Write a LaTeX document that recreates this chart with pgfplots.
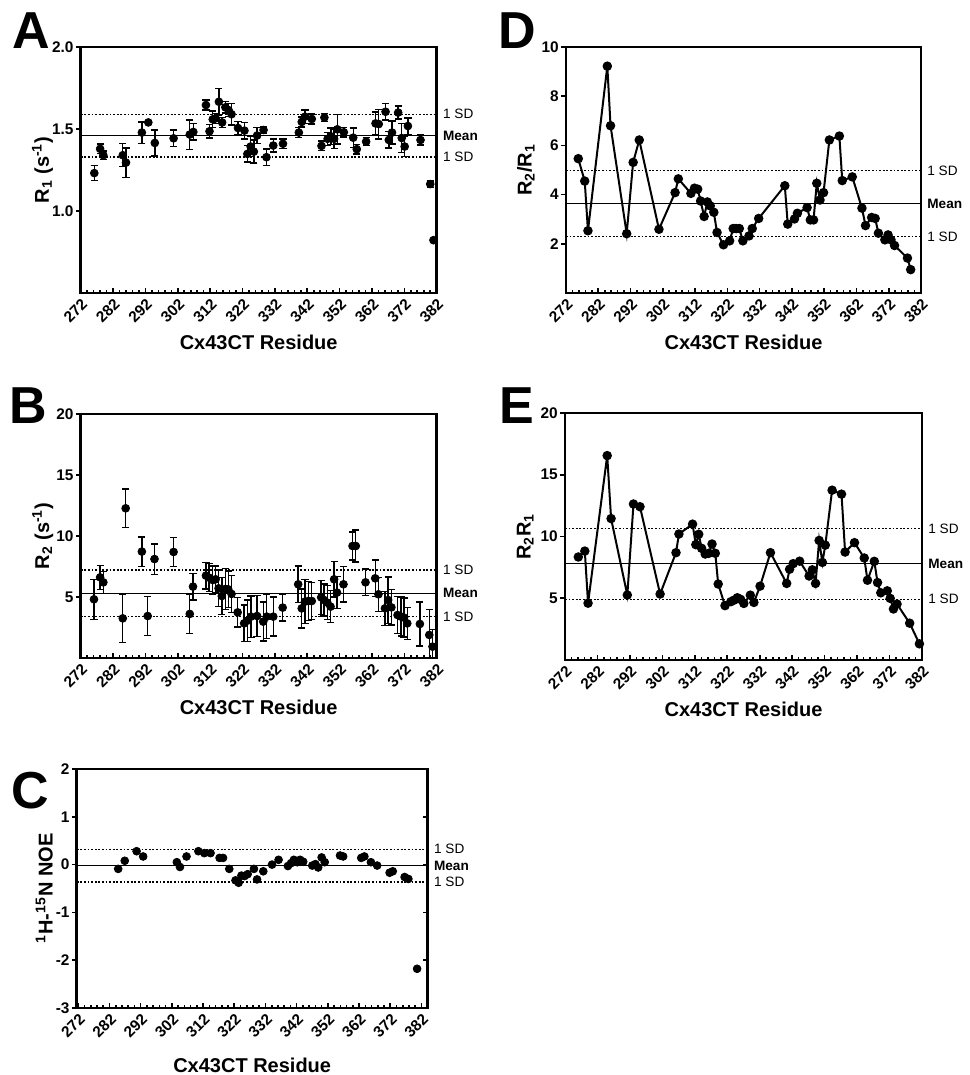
\documentclass[border=0pt]{standalone}
\usepackage{fontspec}
\setmainfont{Liberation Sans}
\usepackage{pgfplots}
\pgfplotsset{compat=1.18}

\tikzset{
  rlab/.style={anchor=west, xshift=3pt, font=\fontsize{6.8}{8}\selectfont, inner sep=0pt},
  rlabb/.style={rlab, font=\bfseries\fontsize{6.8}{8}\selectfont},
  letter/.style={font=\bfseries\fontsize{26}{26}\selectfont},
  rtick/.style={black, line width=0.8pt},
}
\pgfplotsset{
  panel/.style={
    scale only axis,
    clip mode=individual,
    anchor=south west,
    xmin=272, xmax=382,
    xtick={272,282,...,382},
    minor x tick num=4,
    xtick pos=left, ytick pos=left,
    xtick align=inside, ytick align=outside,
    major tick length=2.4pt, minor tick length=1.6pt,
    every tick/.append style={black, line width=0.8pt},
    axis line style={line width=1.3pt},
    /pgf/number format/assume math mode=true,
    tick label style={font=\bfseries\fontsize{7.7}{9}\selectfont},
    yticklabel style={inner sep=1pt},
    xticklabel style={rotate=45, anchor=north east, inner sep=1.5pt},
    label style={font=\bfseries\fontsize{10}{12}\selectfont},
    xlabel={Cx43CT Residue},
    ylabel shift=-5pt,
  },
  pts/.style={only marks, mark=*, mark size=1.95pt, black,
    error bars/.cd, y dir=both, y explicit,
    error bar style={line width=0.7pt, black},
    error mark options={rotate=90, mark size=1.8pt, line width=0.7pt, black}},
  mline/.style={black, line width=0.7pt},
  sdline/.style={black, line width=0.7pt, dash pattern=on 0.9pt off 0.9pt},
  conn/.style={black, line width=1pt, mark=*, mark size=1.85pt},
}

\begin{document}
\begin{tikzpicture}
\useasboundingbox (0,0) rectangle (484.5pt,537.5pt);

% ---------------- A: R1
\begin{axis}[panel, at={(40.35pt,391pt)}, width=178pt, height=123pt,
  ymin=0.5, ymax=2.0, ytick={1.0,1.5,2.0},
  yticklabel style={/pgf/number format/.cd, fixed, fixed zerofill, precision=1},
  ylabel={R\textsubscript{1} (s\textsuperscript{-1})}]
\addplot[mline] coordinates {(272,1.46) (382,1.46)};
\addplot[sdline] coordinates {(272,1.59) (382,1.59)};
\addplot[sdline] coordinates {(272,1.33) (382,1.33)};
\addplot[pts] coordinates {
(276.2,1.231) +- (0,0.045) (278.0,1.379) +- (0,0.03) (279.0,1.340) +- (0,0.025)
(285.0,1.340) +- (0,0.07) (286.0,1.295) +- (0,0.09) (290.9,1.478) +- (0,0.065)
(292.9,1.540) +- (0,0.01) (294.9,1.415) +- (0,0.08) (300.7,1.443) +- (0,0.05)
(305.7,1.466) +- (0,0.09) (306.8,1.482) +- (0,0.05) (310.7,1.646) +- (0,0.03)
(311.8,1.486) +- (0,0.04) (312.8,1.559) +- (0,0.05) (313.7,1.565) +- (0,0.03)
(314.7,1.666) +- (0,0.08) (315.7,1.540) +- (0,0.03) (316.7,1.632) +- (0,0.035)
(317.7,1.615) +- (0,0.04) (318.6,1.590) +- (0,0.065) (320.6,1.506) +- (0,0.04)
(322.6,1.490) +- (0,0.05) (323.5,1.348) +- (0,0.05) (324.5,1.393) +- (0,0.06)
(325.5,1.362) +- (0,0.07) (326.5,1.460) +- (0,0.05) (328.5,1.494) +- (0,0.02)
(329.4,1.328) +- (0,0.05) (331.5,1.399) +- (0,0.04) (334.5,1.410) +- (0,0.03)
(339.4,1.478) +- (0,0.03) (340.3,1.543) +- (0,0.03) (341.3,1.575) +- (0,0.04)
(343.4,1.561) +- (0,0.03) (346.4,1.397) +- (0,0.03) (347.3,1.570) +- (0,0.025)
(348.3,1.440) +- (0,0.04) (349.3,1.455) +- (0,0.05) (350.3,1.440) +- (0,0.06)
(351.3,1.498) +- (0,0.09) (353.3,1.480) +- (0,0.03) (356.2,1.447) +- (0,0.06)
(357.3,1.377) +- (0,0.03) (360.2,1.423) +- (0,0.025) (363.1,1.534) +- (0,0.07)
(364.1,1.530) +- (0,0.09) (366.2,1.605) +- (0,0.05) (367.2,1.433) +- (0,0.05)
(368.2,1.478) +- (0,0.07) (370.1,1.600) +- (0,0.04) (371.2,1.445) +- (0,0.09)
(372.1,1.393) +- (0,0.06) (373.1,1.518) +- (0,0.05) (377.0,1.433) +- (0,0.03)
(380.0,1.164) +- (0,0.02) (381.0,0.822) +- (0,0)
};
\node[rlab] at (axis cs:382,1.59) {1 SD};
\node[rlabb] at (axis cs:382,1.46) {Mean};
\node[rlab] at (axis cs:382,1.33) {1 SD};
\end{axis}

% ---------------- B: R2
\begin{axis}[panel, at={(40.35pt,208.5pt)}, width=178pt, height=122pt,
  ymin=0, ymax=20, ytick={5,10,15,20}, ylabel shift=-3pt,
  ylabel={R\textsubscript{2} (s\textsuperscript{-1})}]
\addplot[mline] coordinates {(272,5.3) (382,5.3)};
\addplot[sdline] coordinates {(272,7.2) (382,7.2)};
\addplot[sdline] coordinates {(272,3.4) (382,3.4)};
\addplot[pts] coordinates {
(276.1,4.81) +- (0,1.64) (278.0,6.61) +- (0,0.98) (279.0,6.20) +- (0,0.9)
(285.0,3.25) +- (0,2.0) (285.9,12.27) +- (0,1.57) (290.9,8.72) +- (0,1.2)
(292.7,3.44) +- (0,1.6) (294.8,8.11) +- (0,1.25) (300.7,8.69) +- (0,1.2)
(305.7,3.61) +- (0,1.6) (306.7,5.85) +- (0,1.1) (310.7,6.75) +- (0,1.1)
(311.7,6.58) +- (0,1.15) (312.8,6.39) +- (0,1.15) (313.7,6.45) +- (0,1.1)
(314.6,5.71) +- (0,1.5) (315.6,5.08) +- (0,1.5) (316.7,5.66) +- (0,1.7)
(317.6,5.63) +- (0,1.5) (318.6,5.25) +- (0,1.5) (320.5,3.74) +- (0,1.2)
(322.5,2.84) +- (0,1.5) (323.5,3.06) +- (0,1.7) (324.6,3.39) +- (0,1.7)
(326.5,3.44) +- (0,1.7) (328.4,2.98) +- (0,1.6) (329.5,3.39) +- (0,1.8)
(331.5,3.39) +- (0,1.6) (334.4,4.13) +- (0,1.1) (339.2,6.04) +- (0,1.5)
(340.3,4.07) +- (0,1.6) (341.3,4.62) +- (0,1.8) (342.3,4.67) +- (0,1.6)
(343.4,4.67) +- (0,1.5) (346.3,4.97) +- (0,1.4) (347.2,4.75) +- (0,1.3)
(348.2,4.54) +- (0,1.4) (349.2,4.21) +- (0,1.3) (350.3,6.45) +- (0,1.45)
(351.2,5.36) +- (0,1.3) (353.2,6.04) +- (0,1.45) (356.0,9.18) +- (0,1.15)
(357.0,9.18) +- (0,1.3) (360.0,6.20) +- (0,1.1) (363.0,6.53) +- (0,1.5)
(364.0,5.22) +- (0,1.4) (366.0,4.07) +- (0,1.4) (367.0,4.75) +- (0,1.9)
(368.0,4.15) +- (0,1.45) (369.9,3.52) +- (0,1.5) (371.0,3.39) +- (0,1.6)
(371.9,3.31) +- (0,1.6) (372.9,2.84) +- (0,1.3) (376.8,2.79) +- (0,1.8)
(379.7,1.89) +- (0,2.1) (380.7,0.93) +- (0,1.4)
};
\node[rlab] at (axis cs:382,7.2) {1 SD};
\node[rlabb] at (axis cs:382,5.3) {Mean};
\node[rlab] at (axis cs:382,3.4) {1 SD};
\end{axis}

% ---------------- C: NOE
\begin{axis}[panel, at={(38.35pt,33.5pt)}, width=175.5pt, height=119.5pt,
  xmin=271.5, xmax=384,
  ymin=-3, ymax=2, ytick={-3,-2,-1,0,1,2}, ylabel shift=-3pt,
  xlabel style={yshift=-4pt},
  ylabel={\textsuperscript{1}H-\textsuperscript{15}N NOE}]
\addplot[mline] coordinates {(271.5,-0.02) (384,-0.02)};
\addplot[sdline] coordinates {(271.5,0.32) (384,0.32)};
\addplot[sdline] coordinates {(271.5,-0.36) (384,-0.36)};
\addplot[only marks, mark=*, mark size=1.95pt, black] coordinates {
(284.8,-0.09) (286.9,0.08) (290.7,0.28) (292.8,0.17) (303.6,0.05) (304.6,-0.05)
(306.7,0.17) (310.5,0.28) (312.4,0.24) (314.4,0.24) (317.3,0.14) (318.4,0.14)
(320.4,-0.09) (322.4,-0.33) (323.4,-0.38) (324.3,-0.23) (325.3,-0.24) (326.3,-0.20)
(328.3,-0.09) (329.3,-0.31) (331.3,-0.14) (334.1,0.00) (336.2,0.10) (339.2,-0.03)
(340.2,0.03) (341.1,0.10) (342.2,0.05) (343.1,0.10) (344.1,0.06) (347.0,-0.02)
(348.0,0.01) (348.9,-0.06) (350.0,0.15) (351.0,0.05) (355.9,0.19) (356.9,0.17)
(362.7,0.14) (363.7,0.17) (365.8,0.05) (367.8,-0.02) (371.8,-0.17) (372.8,-0.14)
(376.6,-0.26) (377.8,-0.30) (380.6,-2.18)
};
\draw[rtick] (rel axis cs:1,0.2) -- ++(-2.4pt,0pt);
\draw[rtick] (rel axis cs:1,0.4) -- ++(-2.4pt,0pt);
\draw[rtick] (rel axis cs:1,0.6) -- ++(-2.4pt,0pt);
\draw[rtick] (rel axis cs:1,0.8) -- ++(-2.4pt,0pt);
\node[rlab] at (axis cs:384,0.32) {1 SD};
\node[rlabb] at (axis cs:384,-0.02) {Mean};
\node[rlab] at (axis cs:384,-0.36) {1 SD};
\end{axis}

% ---------------- D: R2/R1
\begin{axis}[panel, at={(283pt,391pt)}, width=177.5pt, height=123pt,
  ymin=0, ymax=10, ytick={2,4,6,8,10}, ylabel shift=-1pt,
  ylabel={R\textsubscript{2}/R\textsubscript{1}}]
\addplot[mline] coordinates {(272,3.63) (382,3.63)};
\addplot[sdline] coordinates {(272,4.97) (382,4.97)};
\addplot[sdline] coordinates {(272,2.29) (382,2.29)};
\addplot[conn] coordinates {
(275.8,5.46) (277.8,4.55) (278.8,2.53) (284.8,9.22) (285.8,6.80) (290.8,2.41)
(292.8,5.31) (294.7,6.22) (300.8,2.59) (305.8,4.08) (306.8,4.64) (310.7,4.05)
(311.8,4.26) (312.8,4.22) (313.7,3.74) (314.8,3.11) (315.8,3.70) (316.7,3.54)
(317.8,3.28) (318.8,2.46) (320.8,1.96) (322.7,2.12) (323.8,2.62) (324.7,2.62)
(325.7,2.62) (326.8,2.12) (328.7,2.32) (329.7,2.62) (331.7,3.03) (339.8,4.36)
(340.7,2.80) (342.8,3.01) (343.7,3.24) (346.7,3.47) (347.7,2.97) (348.7,2.97)
(349.7,4.46) (350.7,3.78) (351.8,4.08) (353.6,6.22) (356.7,6.38) (357.6,4.57)
(360.7,4.72) (363.7,3.45) (364.8,2.74) (366.7,3.07) (367.8,3.03) (368.8,2.43)
(370.8,2.16) (371.8,2.36) (372.7,2.16) (373.8,1.93) (377.8,1.42) (378.8,0.95)
};
\node[rlab] at (axis cs:382,4.97) {1 SD};
\node[rlabb] at (axis cs:382,3.63) {Mean};
\node[rlab] at (axis cs:382,2.29) {1 SD};
\end{axis}

% ---------------- E: R2*R1
\begin{axis}[panel, at={(282.5pt,207.5pt)}, width=178.5pt, height=123.5pt,
  ymin=0, ymax=20, ytick={5,10,15,20}, ylabel shift=-1pt,
  ylabel={R\textsubscript{2}R\textsubscript{1}}]
\addplot[mline] coordinates {(272,7.8) (382,7.8)};
\addplot[sdline] coordinates {(272,10.65) (382,10.65)};
\addplot[sdline] coordinates {(272,4.92) (382,4.92)};
\addplot[conn] coordinates {
(276.1,8.34) (278.1,8.82) (279.1,4.6) (285.0,16.55) (286.2,11.45) (291.2,5.26)
(293.1,12.63) (295.1,12.41) (301.3,5.34) (306.2,8.69) (307.1,10.2) (311.3,11.0)
(312.3,9.34) (313.2,10.18) (314.1,9.04) (315.2,8.58) (316.3,8.64) (317.3,9.39)
(318.3,8.64) (319.2,6.15) (321.3,4.40) (323.1,4.72) (324.1,4.85) (325.1,5.04)
(326.1,4.91) (327.1,4.58) (329.1,5.25) (330.2,4.66) (332.1,5.98) (335.3,8.69)
(340.3,6.2) (341.2,7.35) (342.3,7.8) (344.3,8.0) (347.2,6.8) (348.2,7.3)
(349.2,6.2) (350.3,9.68) (351.3,7.9) (352.2,9.3) (354.3,13.75) (357.2,13.43)
(358.3,8.74) (361.2,9.5) (364.2,8.26) (365.2,6.46) (367.3,7.99) (368.3,6.27)
(369.3,5.44) (371.3,5.6) (372.2,4.99) (373.2,4.13) (374.3,4.53) (378.2,2.98)
(381.2,1.31)
};
\node[rlab] at (axis cs:382,10.65) {1 SD};
\node[rlabb] at (axis cs:382,7.8) {Mean};
\node[rlab] at (axis cs:382,4.92) {1 SD};
\end{axis}

% panel letters
\node[letter] at (15.5pt,522pt) {A};
\node[letter] at (14pt,334.5pt) {B};
\node[letter] at (15pt,142pt) {C};
\node[letter] at (258.5pt,522pt) {D};
\node[letter] at (258.5pt,334.5pt) {E};
\end{tikzpicture}
\end{document}
